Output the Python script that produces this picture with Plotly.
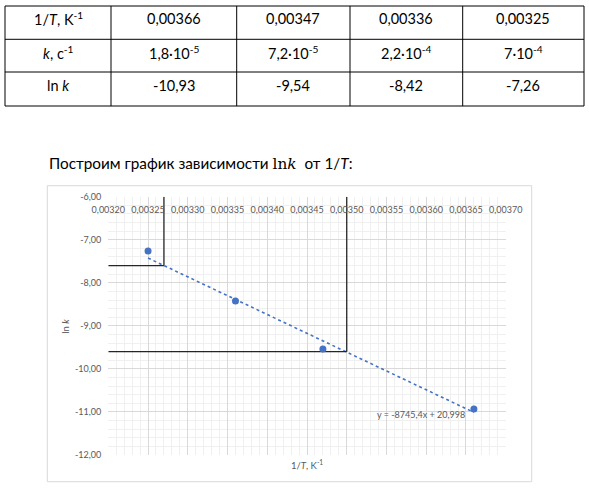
import plotly.graph_objects as go

# table / chart data
inv_T = [0.00366, 0.00347, 0.00336, 0.00325]
k_text = ["1,8·10<sup>-5</sup>", "7,2·10<sup>-5</sup>", "2,2·10<sup>-4</sup>", "7·10<sup>-4</sup>"]
ln_k = [-10.93, -9.54, -8.42, -7.26]
row_heads = ["1/<i>T</i>, K<sup>-1</sup>", "<i>k</i>, c<sup>-1</sup>", "ln <i>k</i>"]

# Excel trendline shown on the chart
trend_slope = -8745.4
trend_intercept = 20.998

# construction lines (points picked on the trendline)
guide_x = [0.00327, 0.00350]
guide_y = [-7.60, -9.60]

x_tick_vals = [0.00320, 0.00325, 0.00330, 0.00335, 0.00340, 0.00345, 0.00350, 0.00355, 0.00360, 0.00365, 0.00370]
x_tick_text = ["0,00320", "0,00325", "0,00330", "0,00335", "0,00340", "0,00345", "0,00350", "0,00355", "0,00360", "0,00365", "0,00370"]
y_tick_vals = [-12, -11, -10, -9, -8, -7, -6]
y_tick_text = ["-12,00", "-11,00", "-10,00", "-9,00", "-8,00", "-7,00", "-6,00"]

W, H = 589, 488
FONT = "Lato, 'Open Sans', sans-serif"
GREY = "#595959"
BLUE = "#4472C4"

# table geometry in pixels
col_edges = [5, 111, 236.7, 350, 462.7, 584]
row_edges = [6, 39.3, 72, 106]
row_text_y = [18.5, 52, 85.5]

def comma(v, nd):
    return f"{v:.{nd}f}".replace(".", ",")

def px(x):
    return x / W

def py(y):
    return 1 - y / H

fig = go.Figure()

# trendline
tx = [min(inv_T), max(inv_T)]
ty = [trend_slope * x + trend_intercept for x in tx]
fig.add_trace(go.Scatter(x=tx, y=ty, mode="lines",
                         line=dict(color=BLUE, width=1.6, dash="dot"), hoverinfo="skip"))

# construction lines
for gx, gy in zip(guide_x, guide_y):
    fig.add_trace(go.Scatter(x=[gx, gx], y=[-6, gy], mode="lines",
                             line=dict(color="#262626", width=1.3), hoverinfo="skip"))
    fig.add_trace(go.Scatter(x=[0.0032, gx], y=[gy, gy], mode="lines",
                             line=dict(color="#262626", width=1.3), hoverinfo="skip"))

# data points
fig.add_trace(go.Scatter(x=inv_T, y=ln_k, mode="markers",
                         marker=dict(color=BLUE, size=7)))

eq = f"y = {comma(trend_slope, 1)}x + {comma(trend_intercept, 3)}"

# table lines
shapes = []
for xe in col_edges:
    shapes.append(dict(type="line", xref="paper", yref="paper", x0=px(xe), x1=px(xe),
                       y0=py(row_edges[0]), y1=py(row_edges[-1]), line=dict(color="black", width=1)))
for ye in row_edges:
    shapes.append(dict(type="line", xref="paper", yref="paper", x0=px(col_edges[0]), x1=px(col_edges[-1]),
                       y0=py(ye), y1=py(ye), line=dict(color="black", width=1)))
# chart frame
shapes.append(dict(type="rect", xref="paper", yref="paper",
                   x0=px(47.3), x1=px(531.7), y0=py(481.7), y1=py(185.7),
                   line=dict(color="#d9d9d9", width=1), layer="below"))

# table cell texts
table_rows = [
    [comma(v, 5) for v in inv_T],
    k_text,
    [comma(v, 2) for v in ln_k],
]
annotations = []
for r, head in enumerate(row_heads):
    cells = [head] + table_rows[r]
    for c, txt in enumerate(cells):
        annotations.append(dict(
            xref="paper", yref="paper",
            x=px((col_edges[c] + col_edges[c + 1]) / 2), y=py(row_text_y[r]),
            xanchor="center", yanchor="middle", showarrow=False,
            font=dict(size=14.5, color="black"), text=txt))

annotations += [
    dict(xref="paper", yref="paper", x=px(47), y=py(163), xanchor="left", yanchor="middle",
         showarrow=False, font=dict(size=15.3, color="black"),
         text="Построим график зависимости <span style=\"font-family:'DejaVu Serif'\">ln<i>k</i></span>  от 1/<i>T</i>:"),
    dict(xref="paper", yref="paper", x=px(306.7), y=py(464), xanchor="center", yanchor="middle",
         showarrow=False, font=dict(size=9.5, color=GREY), text="1/<i>T</i>, K<sup>-1</sup>"),
    dict(xref="paper", yref="paper", x=px(66), y=py(326.7), xanchor="center", yanchor="middle",
         showarrow=False, textangle=-90, font=dict(size=9.5, color=GREY), text="ln <i>k</i>"),
    dict(x=0.0036517, y=-11.055, xanchor="right", yanchor="middle",
         showarrow=False, font=dict(size=9, color=GREY), text=eq),
]

fig.update_layout(
    width=W, height=H,
    margin=dict(l=0, r=0, t=0, b=0),
    paper_bgcolor="white", plot_bgcolor="white",
    showlegend=False,
    font=dict(family=FONT, color=GREY),
    xaxis=dict(
        domain=[px(108.3), px(505.7)], range=[0.0032, 0.0037],
        side="top", ticklabelposition="inside", ticklabeloverflow="allow",
        tickmode="array", tickvals=x_tick_vals, ticktext=x_tick_text,
        tickfont=dict(size=9, color=GREY), ticklabelstandoff=7,
        showgrid=True, gridcolor="#d9d9d9", gridwidth=1,
        minor=dict(tick0=0.0032, dtick=0.00001, showgrid=True, gridcolor="#f0f0f0"),
        zeroline=False, showline=False, ticks="", automargin=False,
    ),
    yaxis=dict(
        domain=[py(455), py(196.7)], range=[-12, -6],
        tickmode="array", tickvals=y_tick_vals, ticktext=y_tick_text,
        ticklabeloverflow="allow",
        tickfont=dict(size=9, color=GREY), ticklabelstandoff=6,
        showgrid=True, gridcolor="#d9d9d9", gridwidth=1,
        minor=dict(tick0=-12, dtick=0.2, showgrid=True, gridcolor="#f0f0f0"),
        zeroline=False, showline=False, ticks="", automargin=False,
    ),
    shapes=shapes,
    annotations=annotations,
)

# page body has an 8px default margin; drop it so the figure sits at (0, 0)
fig.write_html("out.html", config={"displayModeBar": False},
               post_script="document.body.style.margin='0';")
